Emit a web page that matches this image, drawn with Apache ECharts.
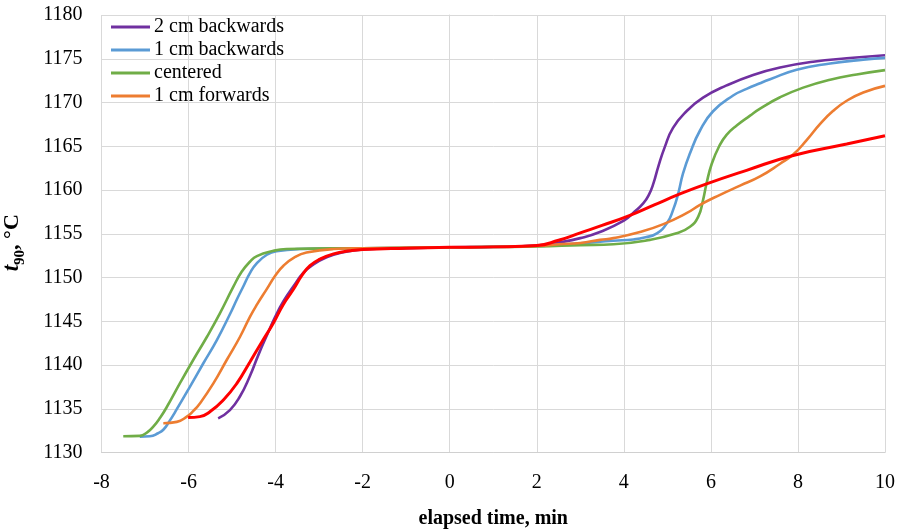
<!DOCTYPE html>
<html>
<head>
<meta charset="utf-8">
<script src="https://cdn.jsdelivr.net/npm/echarts@6/dist/echarts.min.js"></script>
<style>html,body{margin:0;padding:0;background:#fff}#c{width:900px;height:531px}</style>
</head>
<body>
<div id="c"></div>
<script>
const seriesNames = ['2 cm backwards', '1 cm backwards', 'centered', '1 cm forwards', ''];
const xTicks = {min: -8, max: 10, step: 2};
const yTicks = {min: 1130, max: 1180, step: 5};

const purpleData = [[-5.32,1133.9],[-5.05,1134.85],[-4.82,1136.4],[-4.59,1138.75],[-4.40,1141.1],[-4.20,1143.4],[-4.01,1145.5],[-3.82,1147.3],[-3.59,1149.0],[-3.36,1150.55],[-3.13,1151.5],[-2.83,1152.3],[-2.52,1152.8],[-2.0,1153.2],[-1,1153.35],[0,1153.45],[1,1153.5],[2,1153.65],[2.5,1154.0],[3.0,1154.5],[3.45,1155.2],[4.0,1156.5],[4.22,1157.4],[4.45,1158.5],[4.58,1159.5],[4.68,1160.75],[4.79,1162.65],[4.94,1164.9],[5.13,1167.1],[5.44,1169.0],[5.82,1170.55],[6.36,1171.95],[6.97,1173.15],[7.59,1174.0],[8.35,1174.65],[9.12,1175.05],[10,1175.4]];
const blueData = [[-7.12,1131.8],[-6.89,1131.85],[-6.70,1132.2],[-6.58,1132.6],[-6.45,1133.5],[-6.27,1134.95],[-5.97,1137.5],[-5.66,1140.2],[-5.35,1142.85],[-5.05,1145.8],[-4.88,1147.6],[-4.74,1149.0],[-4.59,1150.5],[-4.43,1151.65],[-4.20,1152.6],[-3.98,1153.0],[-3.44,1153.25],[-2,1153.35],[0,1153.45],[2,1153.6],[2.5,1153.75],[3.0,1153.9],[3.76,1154.2],[4.22,1154.35],[4.5,1154.6],[4.76,1155.05],[4.99,1156.2],[5.13,1157.7],[5.25,1159.6],[5.36,1161.9],[5.52,1164.2],[5.75,1166.8],[6.05,1169.0],[6.51,1170.8],[6.82,1171.55],[7.13,1172.2],[7.36,1172.65],[7.97,1173.75],[8.74,1174.45],[9.50,1174.9],[10,1175.1]];
const greenData = [[-7.50,1131.85],[-7.12,1131.9],[-6.95,1132.3],[-6.81,1132.95],[-6.65,1134.0],[-6.50,1135.2],[-6.20,1137.9],[-5.89,1140.6],[-5.58,1143.2],[-5.28,1145.9],[-4.97,1148.95],[-4.78,1150.65],[-4.59,1151.8],[-4.43,1152.45],[-4.05,1153.05],[-3.75,1153.25],[-2,1153.35],[0,1153.45],[2,1153.55],[3.0,1153.7],[3.76,1153.8],[4.60,1154.3],[5.21,1155.05],[5.52,1155.8],[5.71,1156.95],[5.82,1158.85],[5.90,1160.75],[6.02,1163.0],[6.19,1165.0],[6.36,1166.3],[6.60,1167.4],[6.90,1168.5],[7.13,1169.3],[7.59,1170.6],[8.12,1171.7],[8.74,1172.6],[9.35,1173.2],[10,1173.7]];
const orangeData = [[-6.58,1133.35],[-6.27,1133.5],[-6.04,1134.1],[-5.89,1134.75],[-5.74,1135.6],[-5.43,1137.9],[-5.12,1140.6],[-4.82,1143.2],[-4.59,1145.5],[-4.43,1146.9],[-4.20,1148.7],[-4.01,1150.2],[-3.82,1151.35],[-3.55,1152.35],[-3.29,1152.85],[-2.67,1153.25],[-2,1153.35],[0,1153.45],[2,1153.6],[2.5,1153.8],[3.0,1153.95],[3.45,1154.3],[3.76,1154.5],[4.37,1155.2],[4.91,1156.1],[5.44,1157.35],[5.75,1158.3],[6.21,1159.45],[6.67,1160.5],[7.13,1161.55],[7.59,1163.0],[7.89,1164.05],[8.20,1165.7],[8.51,1167.55],[8.81,1169.05],[9.12,1170.2],[9.50,1171.15],[10,1171.9]];
const redData = [[-6.01,1134.0],[-5.74,1134.1],[-5.51,1134.65],[-5.20,1136.0],[-4.89,1137.9],[-4.59,1140.35],[-4.32,1142.6],[-4.05,1144.8],[-3.82,1146.95],[-3.59,1148.65],[-3.40,1150.2],[-3.21,1151.35],[-2.98,1152.1],[-2.67,1152.7],[-2.29,1153.05],[-2,1153.2],[-1,1153.35],[0,1153.45],[1,1153.5],[2,1153.65],[2.5,1154.25],[3.0,1155.1],[3.5,1155.95],[4.14,1157.1],[4.7,1158.3],[5.29,1159.55],[5.90,1160.7],[6.82,1162.25],[7.89,1163.95],[9.12,1165.25],[10,1166.2]];

const allData = [purpleData, blueData, greenData, orangeData, redData];
const colors = ['#7030A0', '#5B9BD5', '#70AD47', '#ED7D31', '#FF0000'];
const FONT = '"Liberation Serif", "Times New Roman", serif';

const chart = echarts.init(document.getElementById('c'), null, {renderer: 'canvas'});
chart.setOption({
  animation: false,
  backgroundColor: '#fff',
  grid: {left: 101.5, right: 15, top: 15, bottom: 78.5, containLabel: false, outerBoundsMode: 'none'},
  legend: {
    data: seriesNames.slice(0, 4),
    orient: 'vertical',
    left: 106,
    top: 12,
    icon: 'rect',
    itemWidth: 39,
    itemHeight: 3,
    itemGap: 3,
    textStyle: {fontFamily: FONT, fontSize: 20, color: '#000', lineHeight: 20, padding: [0, 0, 0, -1]}
  },
  xAxis: {
    type: 'value',
    min: xTicks.min, max: xTicks.max, interval: xTicks.step,
    name: 'elapsed time, min',
    nameLocation: 'middle',
    nameGap: 56,
    nameTextStyle: {fontFamily: FONT, fontSize: 20, fontWeight: 'bold', color: '#000'},
    axisLine: {show: true, lineStyle: {color: '#d0d0d0', width: 1}},
    axisTick: {show: false},
    axisLabel: {fontFamily: FONT, fontSize: 20, color: '#000', margin: 20},
    splitLine: {show: true, lineStyle: {color: '#d9d9d9', width: 1}}
  },
  yAxis: {
    type: 'value',
    min: yTicks.min, max: yTicks.max, interval: yTicks.step,
    name: '{t|t}{s|90}{c|, °C}',
    nameLocation: 'middle',
    nameGap: 78,
    nameRotate: 90,
    nameTextStyle: {
      fontFamily: FONT, fontSize: 22, fontWeight: 'bold', color: '#000',
      padding: [0, 18, 0, 0],
      rich: {
        t: {fontFamily: FONT, fontSize: 23, fontWeight: 'bold', fontStyle: 'italic', color: '#000', lineHeight: 26, verticalAlign: 'bottom'},
        s: {fontFamily: FONT, fontSize: 15, fontWeight: 'bold', color: '#000', lineHeight: 26, verticalAlign: 'bottom', padding: [0, 0, -4, 0]},
        c: {fontFamily: FONT, fontSize: 22, fontWeight: 'bold', color: '#000', lineHeight: 26, verticalAlign: 'bottom'}
      }
    },
    axisLine: {show: true, lineStyle: {color: '#d9d9d9', width: 1}},
    axisTick: {show: false},
    axisLabel: {fontFamily: FONT, fontSize: 20, color: '#000', margin: 19, formatter: v => String(v)},
    splitLine: {show: true, lineStyle: {color: '#d9d9d9', width: 1}}
  },
  series: allData.map((d, i) => ({
    name: seriesNames[i],
    type: 'line',
    data: d,
    showSymbol: false,
    symbol: 'none',
    smooth: 0.5,
    color: colors[i],
    lineStyle: {color: colors[i], width: i === 4 ? 3 : 2.6},
    z: 2 + i
  }))
});
</script>
</body>
</html>
